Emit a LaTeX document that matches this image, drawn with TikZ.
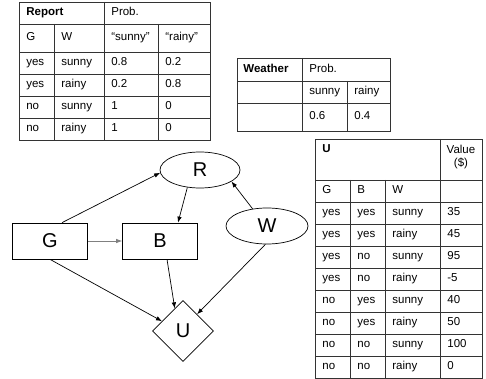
\documentclass[tikz,border=0pt]{standalone}
\usepackage{fontspec}
\setmainfont{Liberation Sans}
\usetikzlibrary{arrows.meta, shapes.geometric}

\begin{document}
\begin{tikzpicture}[x=1pt, y=-1pt, line width=0.7pt,
		every node/.style={inner sep=0pt, font=\fontsize{11.5}{13}\selectfont},
		txt/.style={anchor=west, text height=8.3pt, text depth=2.4pt},
		bold/.style={txt, font=\fontsize{11.5}{13}\selectfont\bfseries},
		tabline/.style={draw=black!80, line width=0.6pt},
		decbox/.style={draw, font=\fontsize{20}{24}\selectfont, minimum width=75pt, minimum height=36pt},
		chance/.style={draw, ellipse, font=\fontsize{20}{24}\selectfont, minimum width=80pt, minimum height=36pt},
		utilnode/.style={draw, diamond, font=\fontsize{20}{24}\selectfont, minimum width=61pt, minimum height=61pt},
		link/.style={-{Latex[length=6pt, width=4.5pt]}}]
	\useasboundingbox (0,0) rectangle (486,379);

	% Report table
	\draw[tabline] (19,2) rectangle (210,140) (104,2) -- (104,140)
		(54,24) -- (54,140) (158,24) -- (158,140);
	\foreach \y in {24,52,74,96,118} \draw[tabline] (19,\y) -- (210,\y);
	\node[bold] (rephead) at (26,13) {Report};
	\node[txt] (repprob) at (111,13) {Prob.};
	\node[txt] (repg) at (26,38) {G};
	\node[txt] (repw) at (61,38) {W};
	\node[txt] (repsun) at (111,38) {“sunny”};
	\node[txt] (reprain) at (165,38) {“rainy”};
	\foreach \g/\w/\s/\r [count=\i] in {yes/sunny/0.8/0.2, yes/rainy/0.2/0.8, no/sunny/1/0, no/rainy/1/0} {
		\node[txt] (rg\i) at (26,41+22*\i) {\g};
		\node[txt] (rw\i) at (61,41+22*\i) {\w};
		\node[txt] (rs\i) at (111,41+22*\i) {\s};
		\node[txt] (rr\i) at (165,41+22*\i) {\r};
	}

	% Weather table
	\draw[tabline] (237,58) rectangle (390,131) (302,58) -- (302,131)
		(347,81) -- (347,131) (237,81) -- (390,81) (237,103) -- (390,103);
	\node[bold] (weahead) at (243,69.5) {Weather};
	\node[txt] (weaprob) at (309,69.5) {Prob.};
	\node[txt] (weasun) at (309,92) {sunny};
	\node[txt] (wearain) at (354,92) {rainy};
	\node[txt] (weapsun) at (309,117) {0.6};
	\node[txt] (weaprain) at (354,117) {0.4};

	% U table
	\draw[tabline] (315,139) rectangle (482,378) (440,139) -- (440,378)
		(350,180) -- (350,378) (385,180) -- (385,378);
	\foreach \y in {180,202,...,356} \draw[tabline] (315,\y) -- (482,\y);
	\node[bold] (uhead) at (322,150) {U};
	\node[align=center] (uvalue) at (461,157.5) {Value\\(\$)};
	\node[txt] (ug) at (322,191) {G};
	\node[txt] (ub) at (357,191) {B};
	\node[txt] (uw) at (392,191) {W};
	\foreach \g/\b/\w/\v [count=\i] in {yes/yes/sunny/35, yes/yes/rainy/45, yes/no/sunny/95,
		yes/no/rainy/-5, no/yes/sunny/40, no/yes/rainy/50, no/no/sunny/100, no/no/rainy/0} {
		\node[txt] (ug\i) at (322,191+22*\i) {\g};
		\node[txt] (ub\i) at (357,191+22*\i) {\b};
		\node[txt] (uw\i) at (392,191+22*\i) {\w};
		\node[txt] (uv\i) at (447,191+22*\i) {\v};
	}

	% network
	\node[decbox] (G) at (50,241) {G};
	\node[decbox] (B) at (160,241) {B};
	\node[chance] (R) at (200,170) {R};
	\node[chance, minimum width=82pt] (W) at (267,226) {W};
	\node[utilnode] (U) at (183,331) {U};

	\draw[link] ([xshift=12pt]G.north) -- (R.184);
	\draw[link, draw=gray] (G) -- (B);
	\draw[link] (G.south) -- (U.155);
	\draw[link] (R.234) -- ([xshift=18pt]B.north);
	\draw[link] (W.130) -- (R.-20);
	\draw[link] ([xshift=7pt]B.south) -- (U.110);
	\draw[link] (W.265) -- (U.50);
\end{tikzpicture}
\end{document}
